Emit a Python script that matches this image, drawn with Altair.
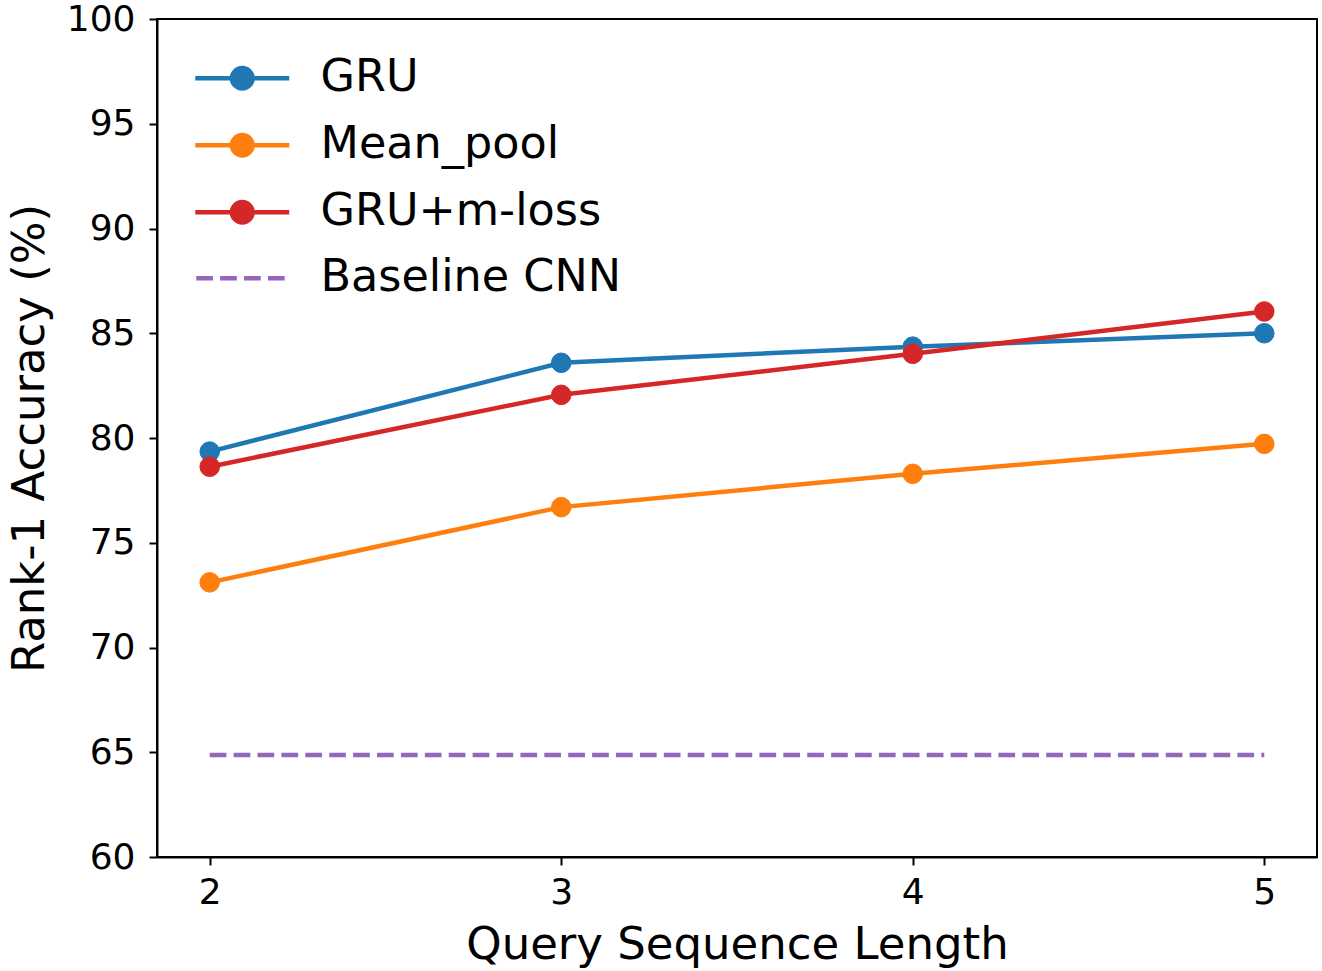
import altair as alt
import pandas as pd

# ---- data ----
x_vals = [2, 3, 4, 5]
gru = [79.35, 83.59, 84.36, 85.0]
mean_pool = [73.11, 76.70, 78.29, 79.72]
gru_mloss = [78.63, 82.06, 84.02, 86.04]
baseline_cnn = 64.87
series_names = ["GRU", "Mean_pool", "GRU+m-loss"]
series_colors = ["#1f77b4", "#ff7f0e", "#d62728"]
baseline_name = "Baseline CNN"
baseline_color = "#9467bd"
y_ticks = [60, 65, 70, 75, 80, 85, 90, 95, 100]
x_ticks = [2, 3, 4, 5]

rows = []
for name, vals in zip(series_names, [gru, mean_pool, gru_mloss]):
    for xv, yv in zip(x_vals, vals):
        rows.append({"x": xv, "y": yv, "series": name})
df = pd.DataFrame(rows)
bdf = pd.DataFrame({"x": [x_vals[0], x_vals[-1]],
                    "y": [baseline_cnn, baseline_cnn],
                    "bname": [baseline_name, baseline_name]})

FONT = "DejaVu Sans"
LINE_DOT = ("M-4.7,0L4.7,0M-1.03,0A1.03,1.03,0,1,1,1.03,0"
            "A1.03,1.03,0,1,1,-1.03,0Z")
LINE_ONLY = "M-4.6,0L4.6,0"
DASH = [16.7, 7.2]

sc = alt.Scale(domain=series_names, range=series_colors)

x_enc = alt.X("x:Q", scale=alt.Scale(domain=[1.85, 5.15], nice=False, zero=False),
              axis=alt.Axis(values=x_ticks, format="d", title="Query Sequence Length"))
y_enc = alt.Y("y:Q", scale=alt.Scale(domain=[60, 100], nice=False, zero=False),
              axis=alt.Axis(values=y_ticks, format="d", title="Rank-1 Accuracy (%)"))

def series_legend():
    return alt.Legend(
        orient="none", legendX=63, legendY=37, title=None,
        labelFont=FONT, labelFontSize=44.5, labelColor="black", labelLimit=600,
        symbolSize=400, symbolStrokeWidth=4.5, symbolType=LINE_DOT,
        symbolOpacity=1,
        labelOffset=56, rowPadding=22, padding=0,
    )

lines = alt.Chart(df).mark_line(strokeWidth=4.5).encode(
    x=x_enc, y=y_enc,
    color=alt.Color("series:N", scale=sc, legend=series_legend()),
)
points = alt.Chart(df).mark_point(filled=True, opacity=1, size=384, strokeWidth=1,
                                  shape="circle").encode(
    x=x_enc, y=y_enc,
    fill=alt.Fill("series:N", scale=sc, legend=series_legend()),
    stroke=alt.Stroke("series:N", scale=sc, legend=series_legend()),
)
base_line = alt.Chart(bdf).mark_line(strokeWidth=4.5, color=baseline_color).encode(
    x=x_enc, y=y_enc,
    strokeDash=alt.StrokeDash("bname:N", scale=alt.Scale(domain=[baseline_name], range=[DASH]),
                              legend=alt.Legend(
                                  orient="none", legendX=63, legendY=237, title=None,
                                  labelFont=FONT, labelFontSize=44.5, labelColor="black",
                                  labelLimit=600, symbolSize=400, symbolStrokeWidth=4.5,
                                  symbolType=LINE_ONLY, symbolStrokeColor=baseline_color,
                                  symbolOpacity=1, labelOffset=56, padding=0)),
)

chart = alt.layer(lines, points, base_line).properties(
    width=1160, height=838,
    autosize=alt.AutoSizeParams(type="none"),
    padding={"left": 157, "top": 19, "right": 5, "bottom": 114},
    background="white",
).configure_view(
    stroke="black", strokeWidth=2,
).configure_axis(
    grid=False,
    domainColor="black", domainWidth=2,
    tickColor="black", tickWidth=2, tickSize=8,
    labelFont=FONT, labelFontSize=36, labelColor="black",
    titleFont=FONT, titleFontSize=45, titleFontWeight="normal", titleColor="black",
).configure_axisY(
    labelPadding=14, titlePadding=14,
).configure_axisX(
    labelPadding=10, titlePadding=12,
)

chart.save("out.html", embed_options={"renderer": "svg", "actions": False})
